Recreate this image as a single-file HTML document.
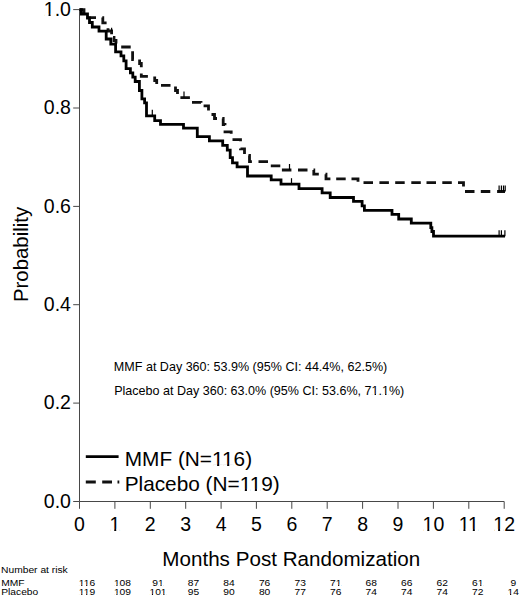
<!DOCTYPE html>
<html><head><meta charset="utf-8"><style>
html,body{margin:0;padding:0;background:#fff;}
svg{display:block;}
text{font-family:"Liberation Sans", sans-serif;fill:#000;}
</style></head><body>
<svg width="520" height="597" viewBox="0 0 520 597">
<rect width="520" height="597" fill="#fff"/>

<g stroke="#484848" stroke-width="1" fill="none">
<path d="M79.5,9.6V501.5H504.2"/>
<path d="M73.2,501.5H79.5"/>
<path d="M73.2,403.1H79.5"/>
<path d="M73.2,304.7H79.5"/>
<path d="M73.2,206.4H79.5"/>
<path d="M73.2,108.0H79.5"/>
<path d="M73.2,9.6H79.5"/>
<path d="M79.5,501.5V508.8"/>
<path d="M114.9,501.5V508.8"/>
<path d="M150.3,501.5V508.8"/>
<path d="M185.7,501.5V508.8"/>
<path d="M221.1,501.5V508.8"/>
<path d="M256.4,501.5V508.8"/>
<path d="M291.8,501.5V508.8"/>
<path d="M327.2,501.5V508.8"/>
<path d="M362.6,501.5V508.8"/>
<path d="M398.0,501.5V508.8"/>
<path d="M433.4,501.5V508.8"/>
<path d="M468.8,501.5V508.8"/>
<path d="M504.2,501.5V508.8"/>
</g>
<text x="70.90" y="507.80" font-size="19.5" text-anchor="end">0.0</text>
<text x="70.90" y="409.42" font-size="19.5" text-anchor="end">0.2</text>
<text x="70.90" y="311.04" font-size="19.5" text-anchor="end">0.4</text>
<text x="70.90" y="212.66" font-size="19.5" text-anchor="end">0.6</text>
<text x="70.90" y="114.28" font-size="19.5" text-anchor="end">0.8</text>
<text x="70.90" y="15.90" font-size="19.5" text-anchor="end">1.0</text>
<text x="79.50" y="531.00" font-size="19.5" text-anchor="middle">0</text>
<text x="114.89" y="531.00" font-size="19.5" text-anchor="middle">1</text>
<text x="150.28" y="531.00" font-size="19.5" text-anchor="middle">2</text>
<text x="185.67" y="531.00" font-size="19.5" text-anchor="middle">3</text>
<text x="221.06" y="531.00" font-size="19.5" text-anchor="middle">4</text>
<text x="256.45" y="531.00" font-size="19.5" text-anchor="middle">5</text>
<text x="291.84" y="531.00" font-size="19.5" text-anchor="middle">6</text>
<text x="327.23" y="531.00" font-size="19.5" text-anchor="middle">7</text>
<text x="362.62" y="531.00" font-size="19.5" text-anchor="middle">8</text>
<text x="398.01" y="531.00" font-size="19.5" text-anchor="middle">9</text>
<text x="433.40" y="531.00" font-size="19.5" text-anchor="middle">10</text>
<text x="468.79" y="531.00" font-size="19.5" text-anchor="middle">11</text>
<text x="504.18" y="531.00" font-size="19.5" text-anchor="middle">12</text>
<text transform="translate(27.60,254.50) rotate(-90) scale(1.02,1)" font-size="20" text-anchor="middle">Probability</text>
<text transform="translate(291.25,566.00) scale(1.026,1)" font-size="20.1" text-anchor="middle">Months Post Randomization</text>
<text transform="translate(1.09,572.80) scale(1.08,1)" font-size="9.5" text-anchor="start">Number at risk</text>
<text transform="translate(1.24,586.00) scale(1.08,1)" font-size="9.5" text-anchor="start">MMF</text>
<text transform="translate(1.24,595.00) scale(1.08,1)" font-size="9.5" text-anchor="start">Placebo</text>
<text transform="translate(86.94,586.00) scale(1.08,1)" font-size="9.5" text-anchor="middle">116</text>
<text transform="translate(86.94,595.00) scale(1.08,1)" font-size="9.5" text-anchor="middle">119</text>
<text transform="translate(122.47,586.00) scale(1.08,1)" font-size="9.5" text-anchor="middle">108</text>
<text transform="translate(122.47,595.00) scale(1.08,1)" font-size="9.5" text-anchor="middle">109</text>
<text transform="translate(158.00,586.00) scale(1.08,1)" font-size="9.5" text-anchor="middle">91</text>
<text transform="translate(158.00,595.00) scale(1.08,1)" font-size="9.5" text-anchor="middle">101</text>
<text transform="translate(193.53,586.00) scale(1.08,1)" font-size="9.5" text-anchor="middle">87</text>
<text transform="translate(193.53,595.00) scale(1.08,1)" font-size="9.5" text-anchor="middle">95</text>
<text transform="translate(229.06,586.00) scale(1.08,1)" font-size="9.5" text-anchor="middle">84</text>
<text transform="translate(229.06,595.00) scale(1.08,1)" font-size="9.5" text-anchor="middle">90</text>
<text transform="translate(264.59,586.00) scale(1.08,1)" font-size="9.5" text-anchor="middle">76</text>
<text transform="translate(264.59,595.00) scale(1.08,1)" font-size="9.5" text-anchor="middle">80</text>
<text transform="translate(300.12,586.00) scale(1.08,1)" font-size="9.5" text-anchor="middle">73</text>
<text transform="translate(300.12,595.00) scale(1.08,1)" font-size="9.5" text-anchor="middle">77</text>
<text transform="translate(335.65,586.00) scale(1.08,1)" font-size="9.5" text-anchor="middle">71</text>
<text transform="translate(335.65,595.00) scale(1.08,1)" font-size="9.5" text-anchor="middle">76</text>
<text transform="translate(371.18,586.00) scale(1.08,1)" font-size="9.5" text-anchor="middle">68</text>
<text transform="translate(371.18,595.00) scale(1.08,1)" font-size="9.5" text-anchor="middle">74</text>
<text transform="translate(406.71,586.00) scale(1.08,1)" font-size="9.5" text-anchor="middle">66</text>
<text transform="translate(406.71,595.00) scale(1.08,1)" font-size="9.5" text-anchor="middle">74</text>
<text transform="translate(442.24,586.00) scale(1.08,1)" font-size="9.5" text-anchor="middle">62</text>
<text transform="translate(442.24,595.00) scale(1.08,1)" font-size="9.5" text-anchor="middle">74</text>
<text transform="translate(477.77,586.00) scale(1.08,1)" font-size="9.5" text-anchor="middle">61</text>
<text transform="translate(477.77,595.00) scale(1.08,1)" font-size="9.5" text-anchor="middle">72</text>
<text transform="translate(513.30,586.00) scale(1.08,1)" font-size="9.5" text-anchor="middle">9</text>
<text transform="translate(513.30,595.00) scale(1.08,1)" font-size="9.5" text-anchor="middle">14</text>
<text x="113.85" y="370.90" font-size="12.55" text-anchor="start">MMF at Day 360: 53.9% (95% CI: 44.4%, 62.5%)</text>
<text x="114.15" y="395.40" font-size="12.55" text-anchor="start">Placebo at Day 360: 63.0% (95% CI: 53.6%, 71.1%)</text>
<path d="M85.8,456.6H118.6" stroke="#000" stroke-width="2.8"/>
<path d="M85.8,482H95.8M102.2,482H112M117.5,482H119.3" stroke="#111" stroke-width="2.8"/>
<text transform="translate(124.75,466.30) scale(1.025,1)" font-size="20.3" text-anchor="start">MMF (N=116)</text>
<text transform="translate(124.65,491.00) scale(1.025,1)" font-size="20.3" text-anchor="start">Placebo (N=119)</text>
</g>
<g fill="#fff"><rect x="44.78" y="13.78" width="3.77" height="2.77"/><rect x="50.57" y="13.78" width="3.62" height="2.77"/><rect x="110.45" y="528.88" width="3.77" height="2.77"/><rect x="116.24" y="528.88" width="3.62" height="2.77"/><rect x="423.54" y="528.88" width="3.77" height="2.77"/><rect x="429.33" y="528.88" width="3.62" height="2.77"/><rect x="459.65" y="528.88" width="3.77" height="2.77"/><rect x="465.45" y="528.88" width="3.62" height="2.77"/><rect x="469.05" y="528.88" width="3.77" height="2.77"/><rect x="474.84" y="528.88" width="3.62" height="2.77"/><rect x="494.32" y="528.88" width="3.77" height="2.77"/><rect x="500.11" y="528.88" width="3.62" height="2.77"/><rect x="79.11" y="584.66" width="2.08" height="1.99"/><rect x="82.40" y="584.66" width="2.00" height="1.99"/><rect x="84.06" y="584.66" width="2.08" height="1.99"/><rect x="87.34" y="584.66" width="2.00" height="1.99"/><rect x="79.11" y="593.66" width="2.08" height="1.99"/><rect x="82.40" y="593.66" width="2.00" height="1.99"/><rect x="84.06" y="593.66" width="2.08" height="1.99"/><rect x="87.34" y="593.66" width="2.00" height="1.99"/><rect x="114.26" y="584.66" width="2.08" height="1.99"/><rect x="117.55" y="584.66" width="2.00" height="1.99"/><rect x="114.26" y="593.66" width="2.08" height="1.99"/><rect x="117.55" y="593.66" width="2.00" height="1.99"/><rect x="158.35" y="584.66" width="2.08" height="1.99"/><rect x="161.64" y="584.66" width="2.00" height="1.99"/><rect x="149.79" y="593.66" width="2.08" height="1.99"/><rect x="153.08" y="593.66" width="2.00" height="1.99"/><rect x="161.20" y="593.66" width="2.08" height="1.99"/><rect x="164.49" y="593.66" width="2.00" height="1.99"/><rect x="336.00" y="584.66" width="2.08" height="1.99"/><rect x="339.29" y="584.66" width="2.00" height="1.99"/><rect x="478.12" y="584.66" width="2.08" height="1.99"/><rect x="481.41" y="584.66" width="2.00" height="1.99"/><rect x="507.95" y="593.66" width="2.08" height="1.99"/><rect x="511.23" y="593.66" width="2.00" height="1.99"/><rect x="372.09" y="393.82" width="2.50" height="2.23"/><rect x="375.99" y="393.82" width="2.40" height="2.23"/><rect x="382.55" y="393.82" width="2.50" height="2.23"/><rect x="386.46" y="393.82" width="2.40" height="2.23"/><rect x="213.09" y="464.11" width="4.01" height="2.84"/><rect x="219.23" y="464.11" width="3.85" height="2.84"/><rect x="223.11" y="464.11" width="4.01" height="2.84"/><rect x="229.26" y="464.11" width="3.85" height="2.84"/><rect x="240.80" y="488.81" width="4.01" height="2.84"/><rect x="246.95" y="488.81" width="3.85" height="2.84"/><rect x="250.83" y="488.81" width="4.01" height="2.84"/><rect x="256.98" y="488.81" width="3.85" height="2.84"/></g>
<path d="M79.50,9.60L84.00,9.60L84.00,13.50L85.10,13.50M86.50,17.60L96.00,17.60M102.30,17.60L102.80,17.60L102.80,22.80L106.60,22.80M108.00,28.30L108.00,31.00L111.60,31.00L111.60,34.20M113.00,37.50L114.00,37.50L114.00,40.50L116.00,40.50L116.00,43.50L116.50,43.50M121.20,47.00L130.70,47.00M132.60,51.20L132.60,59.50L133.80,59.50M139.60,59.50L139.60,59.50L139.60,63.50L141.30,63.50L141.30,67.30M141.30,73.50L141.30,76.40L147.90,76.40M154.70,76.40L154.70,76.40L154.70,80.50L156.70,80.50L156.70,83.90M161.00,85.30L170.50,85.30M175.50,86.50L175.50,90.50L177.50,90.50L177.50,94.00M180.40,97.60L189.90,97.60M192.00,102.30L201.00,102.30L201.00,102.80M203.60,105.80L208.50,105.80L208.50,110.40M211.50,114.50L214.50,114.50L214.50,118.50L217.00,118.50M222.30,118.50L223.20,118.50L223.20,124.50L225.00,124.50L225.00,125.30M225.00,130.40L225.00,131.80L231.20,131.80L231.20,133.70M232.50,139.70L240.50,139.70L240.50,141.20M240.50,148.50L240.50,148.80L244.50,148.80L244.50,154.00M248.50,155.50L249.50,155.50L249.50,161.60L251.90,161.60M258.50,161.60L268.00,161.60M270.80,165.80L280.30,165.80M281.90,170.00L291.40,170.00M298.00,170.00L307.50,170.00M313.50,170.00L313.80,170.00L313.80,174.20L318.80,174.20M325.50,174.20L326.00,174.20L326.00,178.80L330.40,178.80M336.20,178.80L345.70,178.80M351.50,178.80L358.00,178.80L358.00,181.80M363.50,182.60L373.00,182.60M379.40,182.60L388.90,182.60M395.20,182.60L404.70,182.60M411.30,182.60L420.80,182.60M426.50,182.60L436.00,182.60M442.30,182.60L451.80,182.60M458.00,182.60L463.50,182.60L463.50,186.60M465.00,191.50L474.50,191.50M480.80,191.50L490.30,191.50M497.10,191.50L505.00,191.50" fill="none" stroke="#111" stroke-width="2.8"/>
<path d="M79.5,9.6H81.4V14.0H87.5V18.0H89.5V22.5H92.3V27.0H99.0V31.2H106.2V39.0H110.8V44.2H115.6V51.8H121.0V55.8H123.8V60.8H126.1V68.6H130.4V72.9H132.8V77.2H135.2V81.5H139.4V90.5H141.9V98.9H144.6V102.8H146.5V115.8H154.7V120.6H160.5V124.4H183.5V128.1H197.3V136.7H209.4V140.8H222.7V145.4H227.3V150.2H230.2V157.7H232.5V162.9H237.1V166.9H247.5V176.0H271.2V179.8H281.0V184.2H299.0V188.6H322.1V192.9H330.2V197.5H353.5V201.4H362.1V205.8H364.4V210.3H392.0V214.4H398.7V219.0H411.3V223.2H430.8V227.7H431.9V231.5H433.5V236.2H505.0" fill="none" stroke="#000" stroke-width="2.8"/>
<g stroke="#000" stroke-width="1.2">
<path d="M152.3,115.8v-6"/>
<path d="M291.5,184.2v-6"/>
<path d="M499.1,236.2v-6"/>
<path d="M501.4,236.2v-6"/>
<path d="M504.9,236.2v-6"/>
<path d="M111.6,31.0v-3.2"/>
<path d="M184.0,97.6v-6"/>
<path d="M289.5,170.0v-6"/>
<path d="M499.1,191.5v-6"/>
<path d="M501.4,191.5v-6"/>
<path d="M503.5,191.5v-6"/>
<path d="M505.2,191.5v-6"/>
</g>
</svg>
</body></html>
